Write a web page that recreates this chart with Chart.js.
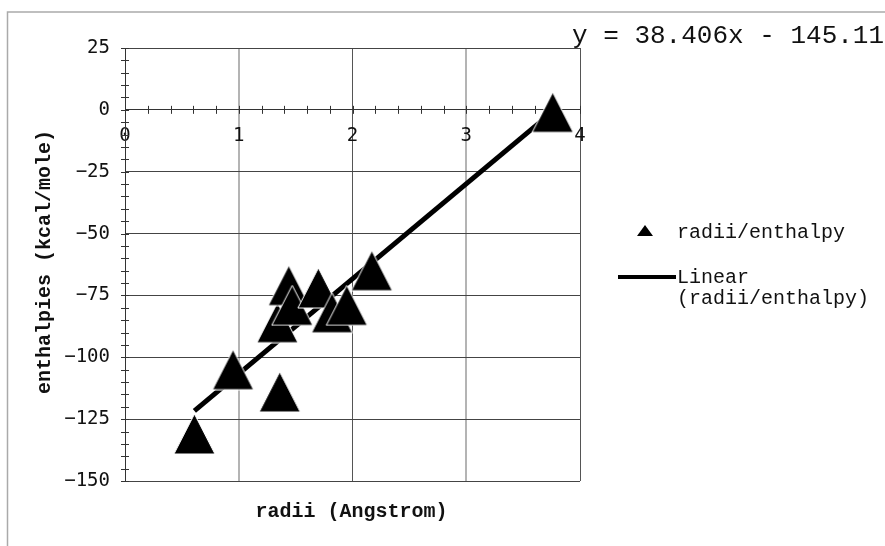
<!DOCTYPE html>
<html>
<head>
<meta charset="utf-8">
<script src="https://cdn.jsdelivr.net/npm/chart.js@4/dist/chart.umd.min.js"></script>
<style>
  html, body { margin: 0; padding: 0; background: #fff; }
  canvas { display: block; }
</style>
</head>
<body>
<canvas id="c" width="885" height="546"></canvas>
<script>
// Ionic radii (Angstrom) against hydration enthalpies (kcal/mole)
const radii      = [0.61, 0.95, 1.34, 1.36, 1.44, 1.47, 1.70, 1.82, 1.95, 2.17, 3.76];
const enthalpies = [-131, -105, -86, -114, -71, -79, -72, -82, -79, -65, -1];

// Axis ticks
const xTicks = [0, 1, 2, 3, 4];
const yTicks = [-150, -125, -100, -75, -50, -25, 0, 25];

// Least-squares line as reported on the chart
const fitSlope = 38.406;
const fitIntercept = -145.11;

const seriesName = 'radii/enthalpy';
const fitName = 'Linear (radii/enthalpy)';
const xTitle = 'radii (Angstrom)';
const yTitle = 'enthalpies (kcal/mole)';

const INK = '#111';
const MONO = '"Liberation Mono", "Courier New", monospace';
const TICKFONT = '"DejaVu Sans Mono", monospace';

// Filled triangle marker with a thin white rim
function triangleMarker(w, h) {
  const c = document.createElement('canvas');
  c.width = w + 2; c.height = h + 2;
  const g = c.getContext('2d');
  g.beginPath();
  g.moveTo(c.width / 2, 1);
  g.lineTo(w + 1, h + 1);
  g.lineTo(1, h + 1);
  g.closePath();
  g.fillStyle = '#000';
  g.fill();
  g.strokeStyle = '#fff';
  g.lineWidth = 1;
  g.stroke();
  return c;
}

const points = radii.map((r, i) => ({ x: r, y: enthalpies[i] }));
const xLo = Math.min(...radii), xHi = Math.max(...radii);
const fitPoints = [
  { x: xLo, y: fitSlope * xLo + fitIntercept },
  { x: xHi, y: fitSlope * xHi + fitIntercept }
];

const minus = v => String(v).replace('-', '\u2212');

const decor = {
  id: 'decor',
  beforeDraw(chart) {
    const { ctx, width, height } = chart;
    ctx.save();
    ctx.fillStyle = '#fff';
    ctx.fillRect(0, 0, width, height);
    ctx.strokeStyle = '#aaaaaa';
    ctx.lineWidth = 1.5;
    ctx.beginPath();
    ctx.moveTo(width, 12);
    ctx.lineTo(7.5, 12);
    ctx.lineTo(7.5, height);
    ctx.stroke();
    ctx.restore();
  },
  beforeDatasetsDraw(chart) {
    // minor tick marks crossing both axes
    const { ctx } = chart;
    const xs = chart.scales.x, ys = chart.scales.y;
    const x0 = xs.getPixelForValue(0), y0 = ys.getPixelForValue(0);
    ctx.save();
    ctx.strokeStyle = '#333';
    ctx.lineWidth = 1;
    ctx.beginPath();
    for (let i = 0; i <= 20; i++) {
      const px = Math.round(xs.getPixelForValue(i * 0.2)) + 0.5;
      ctx.moveTo(px, y0 - 4); ctx.lineTo(px, y0 + 4);
    }
    for (let v = yTicks[0]; v <= yTicks[yTicks.length - 1]; v += 5) {
      const py = Math.round(ys.getPixelForValue(v)) + 0.5;
      ctx.moveTo(x0 - 4, py); ctx.lineTo(x0 + 4, py);
    }
    ctx.stroke();
    ctx.restore();
  },
  afterDraw(chart) {
    const { ctx, chartArea } = chart;
    ctx.save();
    ctx.fillStyle = INK;

    // axis titles
    ctx.font = 'bold 20px ' + MONO;
    ctx.textAlign = 'center';
    ctx.textBaseline = 'middle';
    ctx.fillText(xTitle, (chartArea.left + chartArea.right) / 2 - 1, 512);
    ctx.save();
    ctx.translate(45, 262);
    ctx.rotate(-Math.PI / 2);
    ctx.fillText(yTitle, 0, 0);
    ctx.restore();

    // regression equation
    ctx.font = '26px ' + MONO;
    ctx.textAlign = 'left';
    ctx.textBaseline = 'alphabetic';
    const sign = fitIntercept < 0 ? ' - ' : ' + ';
    ctx.fillText('y = ' + fitSlope + 'x' + sign + Math.abs(fitIntercept), 572, 43);

    // legend
    ctx.font = '20px ' + MONO;
    ctx.beginPath();
    ctx.moveTo(645, 225);
    ctx.lineTo(653, 236);
    ctx.lineTo(637, 236);
    ctx.closePath();
    ctx.fillStyle = '#000';
    ctx.fill();
    ctx.fillStyle = INK;
    ctx.fillText(chart.data.datasets[0].label, 677, 238);

    ctx.strokeStyle = '#000';
    ctx.lineWidth = 4;
    ctx.beginPath();
    ctx.moveTo(618, 277);
    ctx.lineTo(676, 277);
    ctx.stroke();
    const fl = chart.data.datasets[1].label;
    const cut = fl.indexOf(' ');
    ctx.fillText(fl.slice(0, cut), 677, 283);
    ctx.fillText(fl.slice(cut + 1), 677, 304);
    ctx.restore();
  }
};

new Chart(document.getElementById('c'), {
  type: 'scatter',
  data: {
    datasets: [
      {
        label: seriesName,
        data: points,
        pointStyle: triangleMarker(41, 40),
        pointRadius: 20,
        pointHoverRadius: 20,
        backgroundColor: '#000',
        borderColor: '#000',
        order: 1
      },
      {
        label: fitName,
        data: fitPoints,
        showLine: true,
        borderColor: '#000',
        borderWidth: 5,
        borderCapStyle: 'butt',
        pointRadius: 0,
        pointHoverRadius: 0,
        fill: false,
        order: 2
      }
    ]
  },
  options: {
    responsive: false,
    animation: false,
    events: [],
    layout: { padding: { top: 48, right: 305, bottom: 65, left: 0 } },
    plugins: {
      legend: { display: false },
      tooltip: { enabled: false }
    },
    scales: {
      x: {
        type: 'linear',
        position: { y: 0 },
        min: xTicks[0],
        max: xTicks[xTicks.length - 1],
        ticks: {
          stepSize: xTicks[1] - xTicks[0],
          padding: 15,
          color: INK,
          maxRotation: 0,
          autoSkip: false,
          font: { family: TICKFONT, size: 19 }
        },
        grid: {
          drawTicks: false,
          color: c => (c.tick && c.tick.value % 2 === 1) ? '#b4b4b4' : '#555',
          lineWidth: c => (c.tick && c.tick.value % 2 === 1) ? 2 : 1
        },
        border: { color: '#333', width: 1 }
      },
      y: {
        type: 'linear',
        min: yTicks[0],
        max: yTicks[yTicks.length - 1],
        ticks: {
          stepSize: yTicks[1] - yTicks[0],
          padding: 15,
          color: INK,
          font: { family: TICKFONT, size: 19 },
          callback: v => minus(v)
        },
        grid: { drawTicks: false, color: '#444', lineWidth: 1 },
        border: { color: '#333', width: 1 },
        afterFit: s => { s.width = 125; }
      }
    }
  },
  plugins: [decor]
});
</script>
</body>
</html>
